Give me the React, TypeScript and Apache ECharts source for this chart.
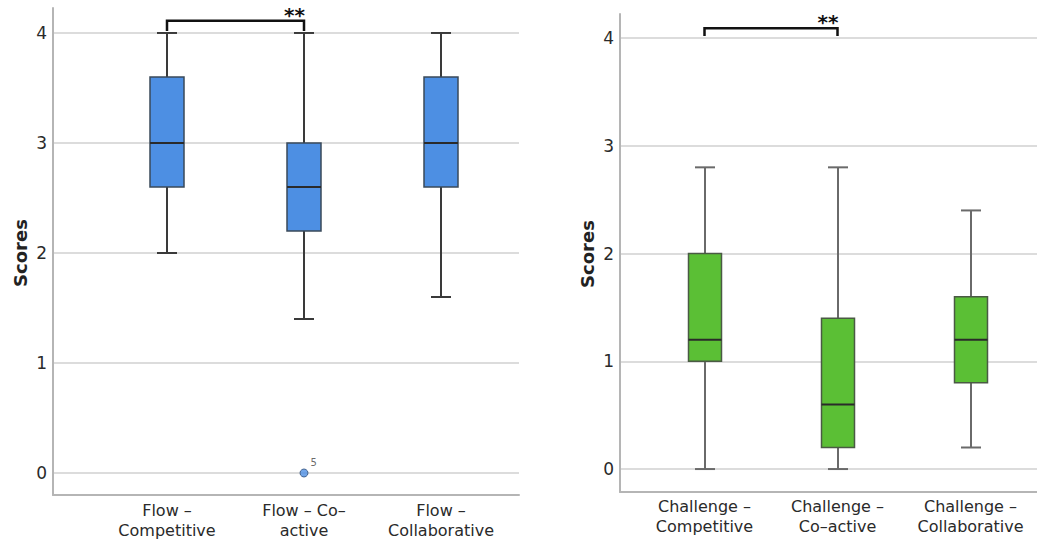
import React, { useEffect, useRef } from "react";
import * as echarts from "echarts";

// ---- data ----
const flowCategories = ["Flow –\nCompetitive", "Flow – Co–\nactive", "Flow –\nCollaborative"];
// [min, Q1, median, Q3, max]
const flowBoxes = [
  [2.0, 2.6, 3.0, 3.6, 4.0],
  [1.4, 2.2, 2.6, 3.0, 4.0],
  [1.6, 2.6, 3.0, 3.6, 4.0],
];
const flowOutliers = [[1, 0, "5"]];
const flowSig = { from: 0, to: 1, level: 4.11, foot: 4.0, label: "**" };

const challengeCategories = ["Challenge –\nCompetitive", "Challenge –\nCo–active", "Challenge –\nCollaborative"];
const challengeBoxes = [
  [0.0, 1.0, 1.2, 2.0, 2.8],
  [0.0, 0.2, 0.6, 1.4, 2.8],
  [0.2, 0.8, 1.2, 1.6, 2.4],
];
const challengeSig = { from: 0, to: 1, level: 4.09, foot: 4.0, label: "**" };

const yTicks = [0, 1, 2, 3, 4];
const yTitle = "Scores";

const FONT = "'DejaVu Sans', sans-serif";
const BLUE = "#4d8fe3";
const GREEN = "#5bbf35";

function makeRender(boxW: number, capW: number, fill: string, border: string, whisker: string) {
  return (params: any, api: any) => {
    const x = api.value(0);
    const mn = api.coord([x, api.value(1)]);
    const q1 = api.coord([x, api.value(2)]);
    const md = api.coord([x, api.value(3)]);
    const q3 = api.coord([x, api.value(4)]);
    const mx = api.coord([x, api.value(5)]);
    const cx = Math.round(mn[0]);
    const ls = { stroke: whisker, lineWidth: 2 };
    return {
      type: "group",
      children: [
        { type: "line", shape: { x1: cx, y1: mx[1], x2: cx, y2: q3[1] }, style: ls },
        { type: "line", shape: { x1: cx, y1: q1[1], x2: cx, y2: mn[1] }, style: ls },
        { type: "line", shape: { x1: cx - capW / 2, y1: mx[1], x2: cx + capW / 2, y2: mx[1] }, style: ls },
        { type: "line", shape: { x1: cx - capW / 2, y1: mn[1], x2: cx + capW / 2, y2: mn[1] }, style: ls },
        {
          type: "rect",
          shape: { x: cx - boxW / 2, y: q3[1], width: boxW, height: q1[1] - q3[1] },
          style: { fill, stroke: border, lineWidth: 1.5 },
        },
        { type: "line", shape: { x1: cx - boxW / 2, y1: md[1], x2: cx + boxW / 2, y2: md[1] }, style: { stroke: "#2a2a2a", lineWidth: 2 } },
      ],
    };
  };
}

function frameY(gridIndex: number, min: number, max: number) {
  return {
    type: "value",
    gridIndex,
    min,
    max,
    axisLine: { show: true, lineStyle: { color: "#b5b5b5", width: 2 } },
    axisTick: { show: false, customValues: yTicks },
    axisLabel: { customValues: yTicks, color: "#2a2a2a", fontSize: 17, fontFamily: FONT, margin: 6 },
    splitLine: { show: true, lineStyle: { color: "#dcdcdc", width: 2 } },
  };
}
function frameX(gridIndex: number) {
  return {
    type: "value",
    gridIndex,
    min: 0,
    max: 1,
    axisLine: { show: true, onZero: false, lineStyle: { color: "#b5b5b5", width: 2 } },
    axisTick: { show: false },
    axisLabel: { show: false },
    splitLine: { show: false },
  };
}
function boxX(gridIndex: number, data: string[], margin: number) {
  return {
    type: "category",
    gridIndex,
    data,
    axisLine: { show: false },
    axisTick: { show: false },
    axisLabel: { color: "#2a2a2a", fontSize: 16, fontFamily: FONT, lineHeight: 20, margin, interval: 0 },
    splitLine: { show: false },
  };
}
function boxY(gridIndex: number, min: number, max: number) {
  return {
    type: "value",
    gridIndex,
    min,
    max,
    show: false,
    splitLine: { show: false },
  };
}

export default function App() {
  const ref = useRef<HTMLDivElement>(null);
  useEffect(() => {
    if (!ref.current) return;
    const chart = echarts.init(ref.current, null, { renderer: "svg" });
    const lMin = -0.2, lMax = 4.227;
    const rMin = -0.213, rMax = 4.223;
    chart.setOption({
      animation: false,
      backgroundColor: "#fff",
      grid: [
        { left: 53, top: 8, width: 466, height: 487 },
        { left: 98.5, top: 8, width: 411, height: 487 },
        { left: 620, top: 14, width: 430, height: 478 },
        { left: 638, top: 14, width: 402, height: 478 },
      ],
      xAxis: [frameX(0), boxX(1, flowCategories, 5), frameX(2), boxX(3, challengeCategories, 4)],
      yAxis: [frameY(0, lMin, lMax), boxY(1, lMin, lMax), frameY(2, rMin, rMax), boxY(3, rMin, rMax)],
      series: [
        {
          type: "custom",
          xAxisIndex: 1,
          yAxisIndex: 1,
          renderItem: makeRender(34, 20, BLUE, "#3a4a5a", "#3a3a3a"),
          encode: { x: 0, y: [1, 2, 3, 4, 5] },
          data: flowBoxes.map((b, i) => [i, ...b]),
        },
        {
          type: "scatter",
          xAxisIndex: 1,
          yAxisIndex: 1,
          symbol: "circle",
          symbolSize: 8,
          itemStyle: { color: BLUE, borderColor: "#2f4f7a", borderWidth: 1 },
          label: {
            show: true,
            position: [11, -11],
            formatter: (p: any) => p.data[2],
            fontSize: 10,
            color: "#444",
            fontFamily: FONT,
          },
          data: flowOutliers,
          z: 5,
        },
        {
          type: "custom",
          xAxisIndex: 3,
          yAxisIndex: 3,
          renderItem: makeRender(33, 20, GREEN, "#4a5a44", "#6a6a6a"),
          encode: { x: 0, y: [1, 2, 3, 4, 5] },
          data: challengeBoxes.map((b, i) => [i, ...b]),
        },
      ],
    });

    const bracket = (axisIdx: number, sig: any) => {
      const a = chart.convertToPixel({ xAxisIndex: axisIdx, yAxisIndex: axisIdx }, [sig.from, sig.level]) as number[];
      const b = chart.convertToPixel({ xAxisIndex: axisIdx, yAxisIndex: axisIdx }, [sig.to, sig.level]) as number[];
      const f = chart.convertToPixel({ xAxisIndex: axisIdx, yAxisIndex: axisIdx }, [sig.from, sig.foot]) as number[];
      return [
        {
          type: "polyline",
          shape: { points: [[a[0], f[1] - 2], [a[0], a[1]], [b[0], b[1]], [b[0], f[1] - 2]] },
          style: { stroke: "#111", lineWidth: 2.5, fill: null },
          z: 10,
        },
        {
          type: "text",
          x: b[0] + 1,
          y: a[1] + 4,
          style: { text: sig.label, fill: "#111", fontSize: 20, fontWeight: "bold", fontFamily: FONT, align: "right", verticalAlign: "bottom" },
          z: 10,
        },
      ];
    };

    chart.setOption({
      graphic: [
        ...bracket(1, flowSig),
        ...bracket(3, challengeSig),
        {
          type: "text",
          x: 20,
          y: 253,
          rotation: Math.PI / 2,
          style: { text: yTitle, fill: "#222", fontSize: 18, fontWeight: "bold", fontFamily: FONT, align: "center", verticalAlign: "middle" },
        },
        {
          type: "text",
          x: 587,
          y: 254,
          rotation: Math.PI / 2,
          style: { text: yTitle, fill: "#222", fontSize: 18, fontWeight: "bold", fontFamily: FONT, align: "center", verticalAlign: "middle" },
        },
      ],
    });
    return () => chart.dispose();
  }, []);
  return <div ref={ref} style={{ position: "fixed", left: 0, top: 0, width: 1037, height: 544 }} />;
}
